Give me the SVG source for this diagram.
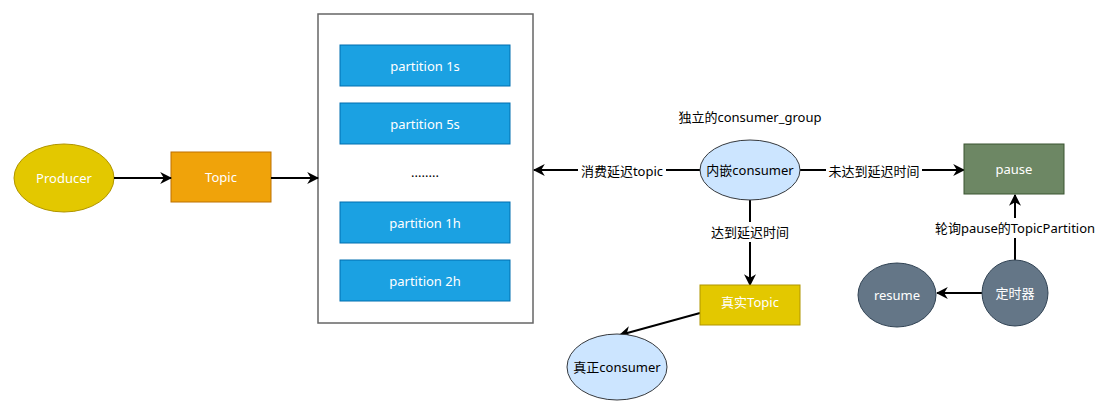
<svg xmlns="http://www.w3.org/2000/svg" width="1098" height="404" viewBox="0 0 1098 404">
<defs>
<marker id="arr" viewBox="0 0 10 10" refX="9" refY="5" markerWidth="12" markerHeight="12" markerUnits="userSpaceOnUse" orient="auto">
<path d="M0,0 L10,5 L0,10 L3,5 Z" fill="#000"/>
</marker>
<style>
text{font-family:"Noto Sans","Noto Sans CJK SC",sans-serif;font-size:13px;text-anchor:middle;dominant-baseline:central}
.w{fill:#fff}
.k{fill:#000}
.part{fill:#1ba1e2;stroke:#006eaf;stroke-width:1}
.yel{fill:#e3c800;stroke:#b09500;stroke-width:1}
.blue{fill:#cce5ff;stroke:#36393d;stroke-width:1}
.slate{fill:#647687;stroke:#314354;stroke-width:1}
.edge{stroke:#000;stroke-width:2;fill:none;marker-end:url(#arr)}
.lbl{fill:#fff}
</style>
</defs>
<rect width="1098" height="404" fill="#fff"/>
<g id="container">
<rect x="318" y="14" width="215" height="309" fill="#fff" stroke="#666" stroke-width="1.5"/>
</g>
<g id="producer">
<ellipse cx="64" cy="178" rx="50" ry="34" class="yel"/>
<text x="64" y="178" class="w">Producer</text>
</g>
<g id="topic">
<rect x="171" y="152" width="100" height="50" fill="#f0a30a" stroke="#bd7000"/>
<text x="221" y="177" class="w">Topic</text>
</g>
<g id="p1s">
<rect x="340" y="45" width="170" height="41" class="part"/>
<text x="425" y="66" class="w">partition 1s</text>
</g>
<g id="p5s">
<rect x="340" y="103" width="170" height="41" class="part"/>
<text x="425" y="124" class="w">partition 5s</text>
</g>
<g id="dots">
<text x="425" y="172" class="k">........</text>
</g>
<g id="p1h">
<rect x="340" y="202" width="170" height="41" class="part"/>
<text x="425" y="223" class="w">partition 1h</text>
</g>
<g id="p2h">
<rect x="340" y="260" width="170" height="41" class="part"/>
<text x="425" y="281" class="w">partition 2h</text>
</g>
<g id="group-label">
<text x="750" y="117" class="k">独立的consumer_group</text>
</g>
<g id="connectors">
<line x1="114" y1="178" x2="171" y2="178" class="edge"/>
<line x1="271" y1="178" x2="318" y2="178" class="edge"/>
<line x1="700" y1="170" x2="534" y2="170" class="edge"/>
<line x1="800" y1="170" x2="964" y2="170" class="edge"/>
<line x1="750" y1="200" x2="750" y2="285" class="edge"/>
<line x1="1015" y1="260" x2="1015" y2="195" class="edge"/>
<line x1="982" y1="293" x2="937" y2="293" class="edge"/>
<line x1="700" y1="313" x2="620" y2="335" class="edge"/>
<rect x="578" y="161" width="88" height="20" class="lbl"/>
<text x="622" y="171" class="k">消费延迟topic</text>
<rect x="826" y="161" width="96" height="20" class="lbl"/>
<text x="874" y="171" class="k">未达到延迟时间</text>
<rect x="710" y="222" width="80" height="20" class="lbl"/>
<text x="750" y="232" class="k">达到延迟时间</text>
<rect x="935" y="218" width="160" height="20" class="lbl"/>
<text x="1015" y="228" class="k">轮询pause的TopicPartition</text>
</g>
<g id="inner-consumer">
<ellipse cx="750" cy="170" rx="50" ry="30" class="blue"/>
<text x="750" y="170" class="k">内嵌consumer</text>
</g>
<g id="pause">
<rect x="964" y="144" width="100" height="50" fill="#6d8764" stroke="#3a5431"/>
<text x="1014" y="169" class="w">pause</text>
</g>
<g id="timer">
<circle cx="1015" cy="293" r="33" class="slate"/>
<text x="1015" y="293" class="w">定时器</text>
</g>
<g id="resume">
<ellipse cx="897" cy="295" rx="39" ry="32" class="slate"/>
<text x="897" y="295" class="w">resume</text>
</g>
<g id="real-topic">
<rect x="700" y="285" width="100" height="40" class="yel"/>
<text x="750" y="302" class="w">真实Topic</text>
</g>
<g id="real-consumer">
<ellipse cx="617" cy="367" rx="50" ry="33" class="blue"/>
<text x="617" y="367" class="k">真正consumer</text>
</g>
</svg>
